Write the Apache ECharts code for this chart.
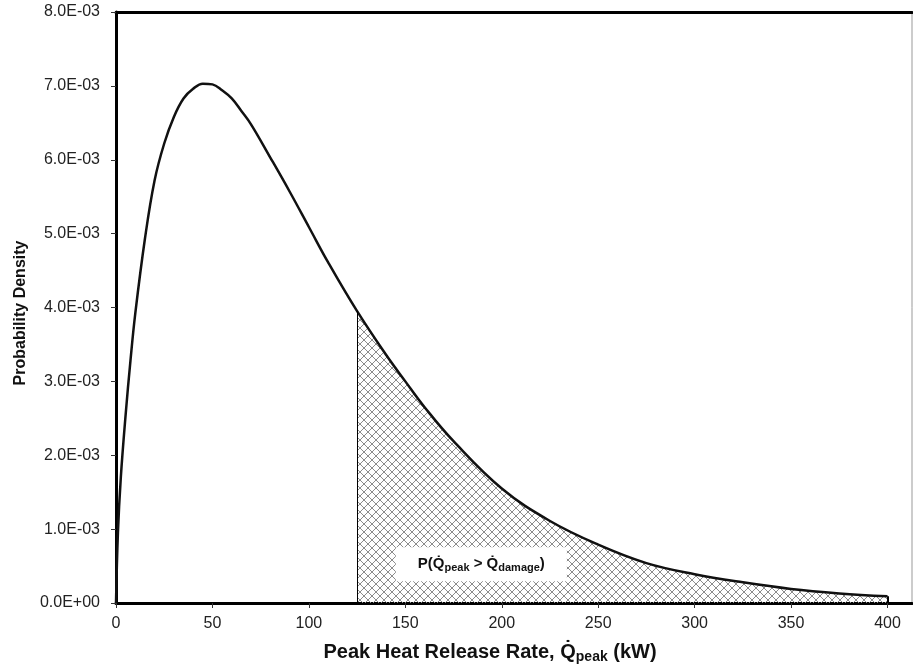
<!DOCTYPE html>
<html>
<head>
<meta charset="utf-8">
<script src="https://cdn.jsdelivr.net/npm/echarts@6/dist/echarts.min.js"></script>
<style>
html,body{margin:0;padding:0;background:#fff;}
#chart{width:913px;height:669px;}
</style>
</head>
<body>
<div id="chart"></div>
<script>
// Peak heat release rate (kW)
var xValues = [0, 1, 2.5, 5, 7.5, 10, 15, 20, 25, 30, 35, 40, 45, 50, 55, 60, 65, 70, 80, 90, 100, 110, 125, 140, 150, 160, 175, 200, 225, 250, 275, 300, 325, 350, 375, 400];
// Probability density (x 1e-3)
var densityE3 = [0, 0.95, 1.70, 2.55, 3.28, 3.92, 4.93, 5.72, 6.22, 6.58, 6.83, 6.96, 7.03, 7.02, 6.94, 6.83, 6.66, 6.48, 6.03, 5.57, 5.09, 4.61, 3.95, 3.36, 3.00, 2.65, 2.19, 1.55, 1.11, 0.79, 0.54, 0.39, 0.28, 0.19, 0.13, 0.09];
var xTicks = [0, 50, 100, 150, 200, 250, 300, 350, 400];
var damageThreshold = 125;
var xEnd = 400;

var curve = xValues.map(function (x, i) { return [x, densityE3[i] / 1000]; });
var tail = curve.filter(function (p) { return p[0] >= damageThreshold; });
function yAt(x) { for (var i = 0; i < curve.length; i++) if (curve[i][0] === x) return curve[i][1]; return 0; }

function fmtY(v) {
  if (Math.abs(v) < 1e-12) return '0.0E+00';
  var e = Math.floor(Math.log10(Math.abs(v)) + 1e-9);
  var m = v / Math.pow(10, e);
  var a = Math.abs(e);
  return m.toFixed(1) + 'E' + (e < 0 ? '-' : '+') + (a < 10 ? '0' : '') + a;
}

// crosshatch pattern
var pc = document.createElement('canvas');
pc.width = 8; pc.height = 8;
var g = pc.getContext('2d');
g.strokeStyle = '#8c8c8c';
g.lineWidth = 1;
g.beginPath();
g.moveTo(0, 0); g.lineTo(8, 8);
g.moveTo(0, 8); g.lineTo(8, 0);
g.stroke();

var FONT = "'Liberation Sans', Arial, sans-serif";
var chart = echarts.init(document.getElementById('chart'), null, {renderer: 'canvas'});
var option = {
  backgroundColor: '#fff',
  animation: false,
  grid: {left: 116, right: 1, top: 12, bottom: 66, show: true, borderColor: '#999', borderWidth: 1},
  xAxis: [{
    type: 'value', min: 0, max: 412.7, interval: 50,
    position: 'bottom',
    axisLine: {show: true, onZero: false, lineStyle: {color: '#000', width: 3}},
    axisTick: {show: true, length: 5, lineStyle: {color: '#333'}, customValues: xTicks},
    axisLabel: {margin: 13, fontSize: 16, color: '#222', fontFamily: FONT, customValues: xTicks,
      formatter: function (v) { return xTicks.indexOf(v) >= 0 ? String(v) : ''; }},
    splitLine: {show: false},
    name: '{a|Peak Heat Release Rate, Q\u0307}{s|peak}{a| (kW)}',
    nameLocation: 'middle', nameGap: 37,
    nameTextStyle: {padding: [0, 48, 0, 0], rich: {
      a: {fontSize: 20, fontWeight: 'bold', fontFamily: FONT, color: '#111', lineHeight: 24},
      s: {fontSize: 14, fontWeight: 'bold', fontFamily: FONT, color: '#111', padding: [10, 0, 0, 0], lineHeight: 24}
    }}
  }, {
    type: 'value', min: 0, max: 412.7, position: 'top',
    axisLine: {show: true, onZero: false, lineStyle: {color: '#000', width: 3}},
    axisTick: {show: false}, axisLabel: {show: false}, splitLine: {show: false}
  }],
  yAxis: {
    type: 'value', min: 0, max: 0.008, interval: 0.001,
    axisLine: {show: true, lineStyle: {color: '#000', width: 3}},
    axisTick: {show: true, length: 5, lineStyle: {color: '#333'}},
    axisLabel: {margin: 16, fontSize: 16, color: '#222', fontFamily: FONT, formatter: fmtY},
    splitLine: {show: false},
    name: 'Probability Density',
    nameLocation: 'middle', nameGap: 87,
    nameTextStyle: {fontSize: 16, fontWeight: 'bold', fontFamily: FONT, color: '#111', padding: [0, 11, 0, 0]}
  },
  series: [{
    type: 'line', name: 'tail', data: tail, showSymbol: false, symbol: 'none',
    smooth: 0.4, z: 2,
    lineStyle: {width: 0, color: 'transparent'},
    areaStyle: {color: {image: pc, repeat: 'repeat'}, opacity: 1},
    markLine: {
      silent: true, symbol: 'none', label: {show: false},
      data: [
        [{coord: [damageThreshold, 0], lineStyle: {color: '#000', width: 1, type: 'solid'}}, {coord: [damageThreshold, yAt(damageThreshold)]}],
        [{coord: [xEnd, 0], lineStyle: {color: '#000', width: 2, type: 'solid'}}, {coord: [xEnd, yAt(xEnd)]}]
      ]
    },
    markPoint: {
      silent: true, symbol: 'rect', symbolSize: 0,
      data: [{coord: [189.4, 0.000524], value: ''}],
      label: {show: true, position: 'inside', backgroundColor: '#fff', padding: [7, 22, 7, 22],
        formatter: '{b|P(Q\u0307}{s|peak}{b| > Q\u0307}{s|damage}{b|)}',
        rich: {
          b: {fontSize: 15, fontWeight: 'bold', fontFamily: FONT, color: '#111', lineHeight: 20},
          s: {fontSize: 11, fontWeight: 'bold', fontFamily: FONT, color: '#111', padding: [8, 0, 0, 0], lineHeight: 20}
        }
      }
    }
  }, {
    type: 'line', name: 'pdf', data: curve, showSymbol: false, symbol: 'none',
    smooth: 0.4, z: 3,
    lineStyle: {width: 2.5, color: '#111'}
  }]
};
chart.setOption(option);
</script>
</body>
</html>
